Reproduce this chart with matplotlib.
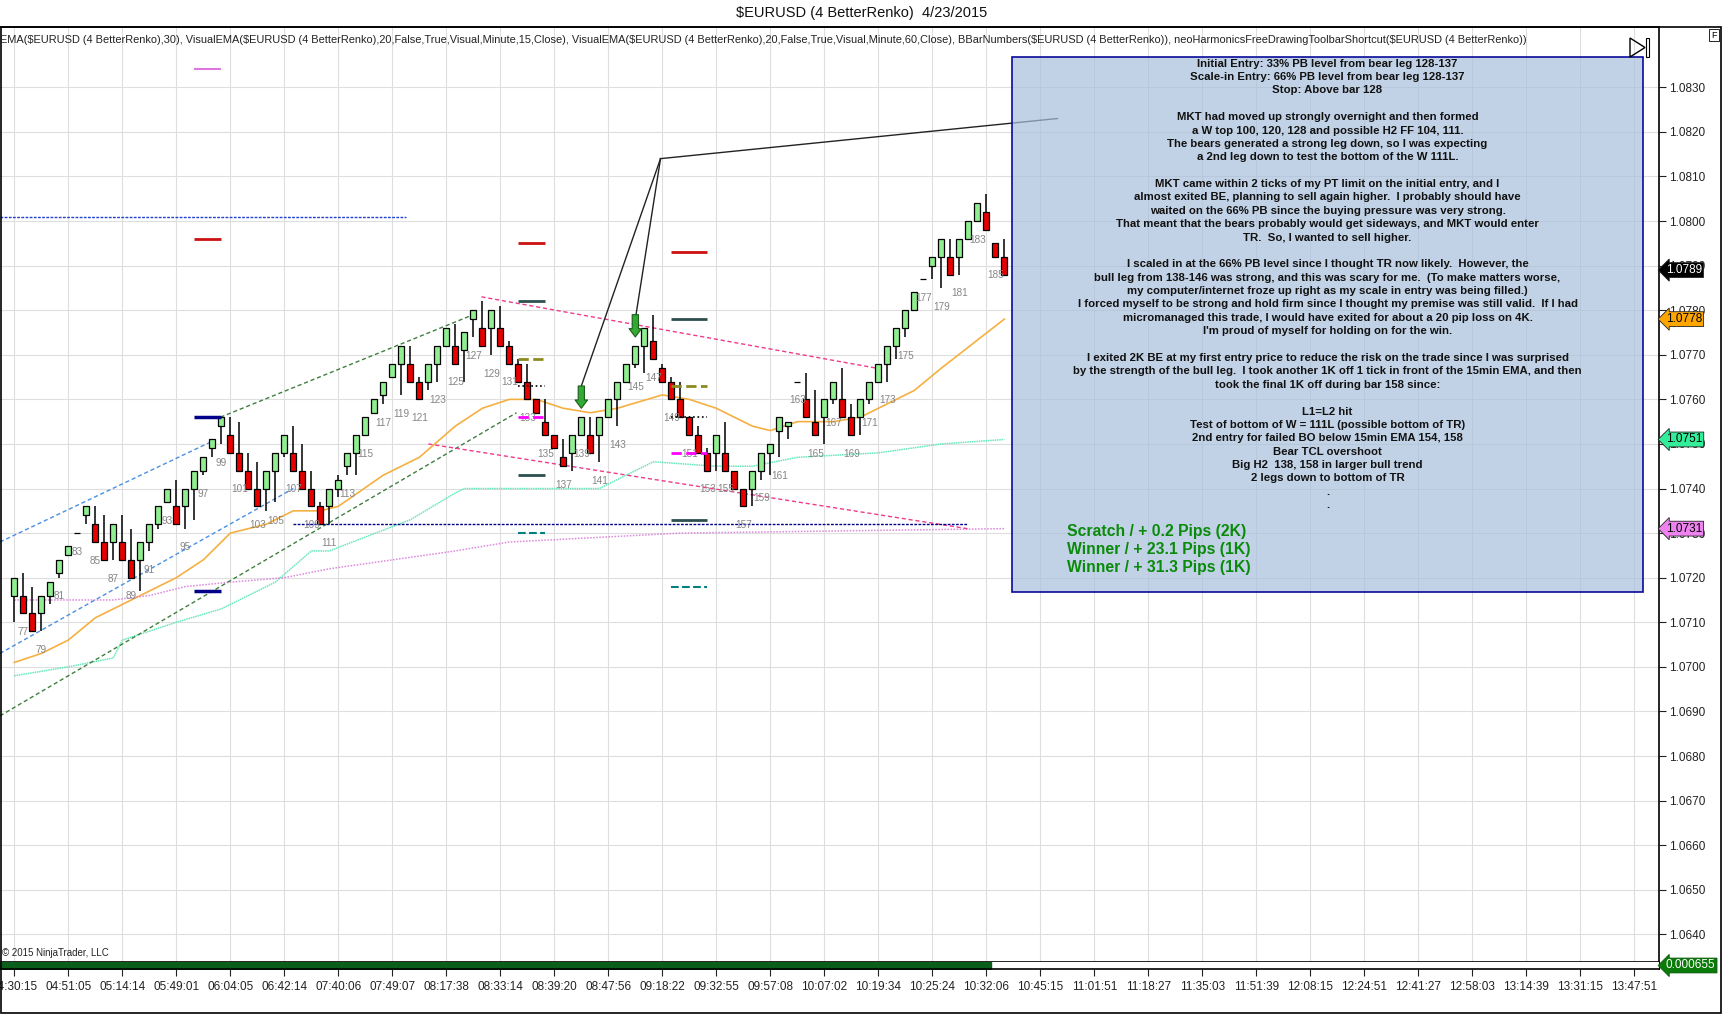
import numpy as np
import matplotlib
matplotlib.use("Agg")
import matplotlib.pyplot as plt
from matplotlib.patches import Rectangle, Polygon

plt.rcParams['font.family'] = ['Liberation Sans', 'DejaVu Sans']

# ---- renko bars (4 pip BetterRenko), first bar number 76 ----
first_bar = 76
bar_open = [1.0716, 1.0716, 1.0712, 1.0712, 1.0716, 1.0721, 1.0725, 1.0730, 1.0734, 1.0732,
            1.0728, 1.0728, 1.0728, 1.0724, 1.0724, 1.0728, 1.0732, 1.0737, 1.0736, 1.0736,
            1.0740, 1.0744, 1.0749, 1.0754, 1.0752, 1.0748, 1.0744, 1.0740, 1.0740, 1.0744,
            1.0748, 1.0748, 1.0744, 1.0740, 1.0736, 1.0736, 1.0740, 1.0745, 1.0748, 1.0752,
            1.0757, 1.0761, 1.0765, 1.0768, 1.0768, 1.0764, 1.0764, 1.0768, 1.0772, 1.0772,
            1.0771, 1.0778, 1.0776, 1.0776, 1.0776, 1.0772, 1.0768, 1.0764, 1.0760, 1.0755,
            1.0752, 1.0747, 1.0748, 1.0752, 1.0752, 1.0752, 1.0756, 1.0760, 1.0764, 1.0768,
            1.0772, 1.0773, 1.0767, 1.0764, 1.0760, 1.0756, 1.0752, 1.0748, 1.0748, 1.0748,
            1.0744, 1.0740, 1.0740, 1.0744, 1.0748, 1.0753, 1.0754, 1.0764, 1.0760, 1.0755,
            1.0756, 1.0760, 1.0760, 1.0756, 1.0756, 1.0760, 1.0764, 1.0768, 1.0772, 1.0776,
            1.0780, 1.0787, 1.0790, 1.0792, 1.0792, 1.0792, 1.0796, 1.0800, 1.0802, 1.0795,
            1.0792]
bar_high = [1.0720, 1.0721, 1.0718, 1.0716, 1.0719, 1.0724, 1.0727, 1.0730, 1.0736, 1.0736,
            1.0734, 1.0732, 1.0734, 1.0731, 1.0728, 1.0732, 1.0736, 1.0740, 1.0742, 1.0740,
            1.0744, 1.0747, 1.0751, 1.0756, 1.0756, 1.0755, 1.0748, 1.0746, 1.0744, 1.0748,
            1.0752, 1.0754, 1.0750, 1.0744, 1.0737, 1.0740, 1.0743, 1.0748, 1.0752, 1.0756,
            1.0760, 1.0764, 1.0768, 1.0772, 1.0772, 1.0765, 1.0768, 1.0772, 1.0776, 1.0777,
            1.0775, 1.0780, 1.0782, 1.0780, 1.0781, 1.0773, 1.0769, 1.0768, 1.0760, 1.0760,
            1.0752, 1.0751, 1.0752, 1.0756, 1.0756, 1.0756, 1.0760, 1.0764, 1.0768, 1.0772,
            1.0776, 1.0779, 1.0768, 1.0765, 1.0764, 1.0756, 1.0754, 1.0749, 1.0752, 1.0755,
            1.0744, 1.0740, 1.0744, 1.0748, 1.0750, 1.0756, 1.0755, 1.0764, 1.0766, 1.0762,
            1.0760, 1.0764, 1.0767, 1.0759, 1.0760, 1.0764, 1.0768, 1.0772, 1.0776, 1.0780,
            1.0784, 1.0787, 1.0792, 1.0796, 1.0796, 1.0796, 1.0800, 1.0804, 1.0806, 1.0795,
            1.0796]
bar_low = [1.0710, 1.0712, 1.0708, 1.0708, 1.0714, 1.0720, 1.0725, 1.0730, 1.0732, 1.0728,
           1.0724, 1.0724, 1.0724, 1.0720, 1.0717, 1.0726, 1.0731, 1.0737, 1.0732, 1.0731,
           1.0733, 1.0743, 1.0747, 1.0750, 1.0748, 1.0744, 1.0740, 1.0736, 1.0735, 1.0737,
           1.0747, 1.0744, 1.0740, 1.0736, 1.0732, 1.0732, 1.0738, 1.0743, 1.0743, 1.0752,
           1.0757, 1.0759, 1.0765, 1.0761, 1.0764, 1.0760, 1.0762, 1.0764, 1.0772, 1.0768,
           1.0764, 1.0774, 1.0772, 1.0770, 1.0772, 1.0768, 1.0764, 1.0760, 1.0757, 1.0752,
           1.0749, 1.0745, 1.0744, 1.0752, 1.0748, 1.0746, 1.0756, 1.0754, 1.0764, 1.0767,
           1.0766, 1.0769, 1.0764, 1.0760, 1.0756, 1.0752, 1.0748, 1.0744, 1.0744, 1.0744,
           1.0740, 1.0736, 1.0736, 1.0742, 1.0743, 1.0747, 1.0751, 1.0764, 1.0756, 1.0752,
           1.0750, 1.0759, 1.0756, 1.0752, 1.0752, 1.0759, 1.0764, 1.0764, 1.0769, 1.0774,
           1.0780, 1.0787, 1.0787, 1.0785, 1.0788, 1.0788, 1.0796, 1.0800, 1.0798, 1.0792,
           1.0788]
bar_close = [1.0720, 1.0712, 1.0708, 1.0716, 1.0719, 1.0724, 1.0727, 1.0730, 1.0736, 1.0728,
             1.0724, 1.0732, 1.0724, 1.0720, 1.0728, 1.0732, 1.0736, 1.0740, 1.0732, 1.0740,
             1.0744, 1.0747, 1.0751, 1.0756, 1.0748, 1.0744, 1.0740, 1.0736, 1.0744, 1.0748,
             1.0752, 1.0744, 1.0740, 1.0736, 1.0732, 1.0740, 1.0742, 1.0748, 1.0752, 1.0756,
             1.0760, 1.0764, 1.0768, 1.0772, 1.0764, 1.0760, 1.0768, 1.0772, 1.0776, 1.0768,
             1.0775, 1.0780, 1.0772, 1.0780, 1.0772, 1.0768, 1.0764, 1.0760, 1.0757, 1.0752,
             1.0749, 1.0745, 1.0752, 1.0756, 1.0748, 1.0756, 1.0760, 1.0764, 1.0768, 1.0772,
             1.0776, 1.0769, 1.0764, 1.0760, 1.0756, 1.0752, 1.0748, 1.0744, 1.0752, 1.0744,
             1.0740, 1.0736, 1.0744, 1.0748, 1.0750, 1.0756, 1.0755, 1.0764, 1.0756, 1.0752,
             1.0760, 1.0764, 1.0756, 1.0752, 1.0760, 1.0764, 1.0768, 1.0772, 1.0776, 1.0780,
             1.0784, 1.0787, 1.0792, 1.0796, 1.0788, 1.0796, 1.0800, 1.0804, 1.0798, 1.0792,
             1.0788]

# time axis labels (every 6th bar slot, starting at bar 76)
time_labels = ['04:30:15', '04:51:05', '05:14:14', '05:49:01', '06:04:05', '06:42:14',
               '07:40:06', '07:49:07', '08:17:38', '08:33:14', '08:39:20', '08:47:56',
               '09:18:22', '09:32:55', '09:57:08', '10:07:02', '10:19:34', '10:25:24',
               '10:32:06', '10:45:15', '11:01:51', '11:18:27', '11:35:03', '11:51:39',
               '12:08:15', '12:24:51', '12:41:27', '12:58:03', '13:14:39', '13:31:15',
               '13:47:51']

# indicators (bar, value)
ema30_bar = [76, 79, 82, 85, 88, 90, 94, 97, 99, 100, 104, 107, 110, 112, 117, 121, 125, 128,
             131, 134, 137, 140, 143, 148, 151, 154, 158, 160, 163, 167, 170, 172, 176, 179, 186]
ema30_val = [1.0701, 1.0703, 1.0706, 1.0711, 1.0714, 1.0716, 1.0720, 1.0724, 1.0728, 1.0730,
             1.0732, 1.0735, 1.0735, 1.0736, 1.0743, 1.0747, 1.0754, 1.0758, 1.0760, 1.0760,
             1.0758, 1.0757, 1.0758, 1.0761, 1.0760, 1.0758, 1.0754, 1.0753, 1.0755, 1.0755,
             1.0756, 1.0758, 1.0762, 1.0767, 1.0778]
ema15_bar = [76, 82, 87, 88, 94, 99, 105, 109, 111, 120, 125, 126, 141, 143, 147, 154, 158,
             163, 172, 179, 186]
ema15_val = [1.0698, 1.0700, 1.0702, 1.0706, 1.0710, 1.0713, 1.0719, 1.0726, 1.0726, 1.0733,
             1.0739, 1.0740, 1.0740, 1.0742, 1.0746, 1.0745, 1.0745, 1.0747, 1.0748, 1.0750,
             1.0751]
ema60_bar = [76, 87, 91, 95, 100, 106, 111, 125, 131, 150, 186]
ema60_val = [1.0715, 1.0715, 1.0716, 1.0718, 1.0719, 1.0720, 1.0722, 1.0726, 1.0728, 1.0730,
             1.0731]

# drawn objects: (bar0, price0, bar1, price1, color, style)
trend_lines = [
    (74.4, 1.0728, 98.4, 1.0751, '#4a90e2', (0, (3, 2))),
    (74.4, 1.0703, 107.0, 1.0740, '#4a90e2', (0, (3, 2))),
    (98.9, 1.0756, 127.0, 1.0779, '#3f7f3f', (0, (3, 2))),
    (74.4, 1.0689, 131.8, 1.0757, '#3f7f3f', (0, (3, 2))),
    (127.9, 1.0783, 171.8, 1.0767, '#ee3c8c', (0, (3, 2))),
    (122.0, 1.0750, 181.9, 1.0731, '#ee3c8c', (0, (3, 2))),
    (107.0, 1.0732, 181.8, 1.0732, '#00008b', (0, (2, 1))),
    (74.4, 1.0801, 119.5, 1.0801, '#2040d0', (0, (2, 1))),
]

# target / stop markers: (bar0, bar1, price, color, style, width)
level_marks = [
    (96, 99, 1.0834, '#dd77dd', '-', 1.5), (96, 99, 1.0796, '#cc1111', '-', 2.0),
    (96, 99, 1.0756, '#00008b', '-', 2.5), (96, 99, 1.0717, '#00008b', '-', 2.5),
    (132, 135, 1.0795, '#cc1111', '-', 2.0), (132, 135, 1.0782, '#2f4f4f', '-', 2.0),
    (132, 135, 1.0769, '#8b8b20', '--', 2.0), (132, 135, 1.0763, '#000000', ':', 1.2),
    (132, 135, 1.0756, '#ff00ff', '--', 2.0), (132, 135, 1.0743, '#2f4f4f', '-', 2.0),
    (132, 135, 1.0730, '#008080', '--', 1.5),
    (149, 153, 1.0793, '#cc1111', '-', 2.0), (149, 153, 1.0778, '#2f4f4f', '-', 2.0),
    (149, 153, 1.0763, '#8b8b20', '--', 2.0), (149, 153, 1.0756, '#000000', ':', 1.2),
    (149, 153, 1.0748, '#ff00ff', '--', 2.0), (149, 153, 1.0733, '#2f4f4f', '-', 2.0),
    (149, 153, 1.0718, '#008080', '--', 1.5),
]

entry_arrows = [(139, 1.0763, 1.0758), (145, 1.0779, 1.0774)]
callout_apex = (147.8, 1.0814)
callout_ends = [(139, 1.0763), (145, 1.0778), (191.9, 1.0823)]

header = ("EMA($EURUSD (4 BetterRenko),30), VisualEMA($EURUSD (4 BetterRenko),20,False,True,Visual,"
          "Minute,15,Close), VisualEMA($EURUSD (4 BetterRenko),20,False,True,Visual,Minute,60,Close), "
          "BBarNumbers($EURUSD (4 BetterRenko)), neoHarmonicsFreeDrawingToolbarShortcut($EURUSD (4 BetterRenko))")

note_lines = [
    "Initial Entry: 33% PB level from bear leg 128-137",
    "Scale-in Entry: 66% PB level from bear leg 128-137",
    "Stop: Above bar 128",
    "",
    "MKT had moved up strongly overnight and then formed",
    "a W top 100, 120, 128 and possible H2 FF 104, 111.",
    "The bears generated a strong leg down, so I was expecting",
    "a 2nd leg down to test the bottom of the W 111L.",
    "",
    "MKT came within 2 ticks of my PT limit on the initial entry, and I",
    "almost exited BE, planning to sell again higher.  I probably should have",
    "waited on the 66% PB since the buying pressure was very strong.",
    "That meant that the bears probably would get sideways, and MKT would enter",
    "TR.  So, I wanted to sell higher.",
    "",
    "I scaled in at the 66% PB level since I thought TR now likely.  However, the",
    "bull leg from 138-146 was strong, and this was scary for me.  (To make matters worse,",
    "my computer/internet froze up right as my scale in entry was being filled.)",
    "I forced myself to be strong and hold firm since I thought my premise was still valid.  If I had",
    "micromanaged this trade, I would have exited for about a 20 pip loss on 4K.",
    "I'm proud of myself for holding on for the win.",
    "",
    "I exited 2K BE at my first entry price to reduce the risk on the trade since I was surprised",
    "by the strength of the bull leg.  I took another 1K off 1 tick in front of the 15min EMA, and then",
    "took the final 1K off during bar 158 since:",
    "",
    "L1=L2 hit",
    "Test of bottom of W = 111L (possible bottom of TR)",
    "2nd entry for failed BO below 15min EMA 154, 158",
    "Bear TCL overshoot",
    "Big H2  138, 158 in larger bull trend",
    "2 legs down to bottom of TR",
    ".",
    ".",
]
results = ["Scratch / + 0.2 Pips (2K)", "Winner / + 23.1 Pips (1K)", "Winner / + 31.3 Pips (1K)"]

price_tags = [(1.0789, '#000000', 'white'), (1.0778, '#ffa500', 'black'),
              (1.0751, '#33ee99', 'black'), (1.0731, '#ee82ee', 'black')]
osc_value = 0.000655

# ---------------------------------------------------------------
W, H = 1723, 1015
fig = plt.figure(figsize=(W / 100, H / 100), dpi=100)
fig.patch.set_facecolor('white')
ax = fig.add_axes([0, 1 - 962 / H, 1659 / W, 935 / H])
ax2 = fig.add_axes([0, 1 - 969 / H, 1659 / W, 7 / H], sharex=ax)

bars = np.arange(first_bar, first_bar + len(bar_open))
xmin, xmax = 74.41, 258.74
ax.set_xlim(xmin, xmax)
ax.set_ylim(1.063379, 1.084353)

tick_bars = first_bar + 6 * np.arange(len(time_labels))
ax.set_xticks(tick_bars)
ax.set_yticks(np.round(np.arange(1.0640, 1.08305, 0.001), 4))
ax.yaxis.tick_right()
ax.yaxis.set_major_formatter(plt.FormatStrFormatter('%.4f'))
ax.tick_params(axis='y', direction='out', length=5, pad=2, labelsize=8.5, colors='#222222')
ax.tick_params(axis='x', length=0, labelbottom=False)
ax.grid(True, color='#dedede', lw=0.8, zorder=0)
ax.set_axisbelow(True)
ax.spines['left'].set_visible(False)
for s in ['top', 'right', 'bottom']:
    ax.spines[s].set_color('black')
    ax.spines[s].set_linewidth(1.2)

# candles
for b, o, hi, lo, c in zip(bars, bar_open, bar_high, bar_low, bar_close):
    ax.vlines(b, lo, hi, color='black', lw=1.1, zorder=3)
    fc = '#90ee90' if c >= o else '#e60000'
    ax.add_patch(Rectangle((b - 0.35, min(o, c)), 0.70, abs(c - o), facecolor=fc,
                           edgecolor='black', lw=0.9, zorder=4))
    if b % 2 == 1:
        ax.annotate(str(b), (b, lo), xytext=(0, -13.5), textcoords='offset points',
                    ha='center', va='center', fontsize=7.2, color='#858585', zorder=5)

# indicators
ax.plot(ema30_bar, ema30_val, color='#f5b041', lw=1.2, zorder=2)
ax.plot(ema15_bar, ema15_val, color='#66e8b8', lw=1.1, ls=(0, (1, 0.5)), zorder=2)
ax.plot(ema60_bar, ema60_val, color='#dd88dd', lw=1.1, ls=(0, (1, 1)), zorder=2)

for b0, p0, b1, p1, col, ls in trend_lines:
    ax.plot([b0, b1], [p0, p1], color=col, lw=1.0, ls=ls, zorder=2)

for b0, b1, p, col, ls, lw in level_marks:
    ax.plot([b0, b1], [p, p], color=col, ls=ls, lw=lw, zorder=5, solid_capstyle='butt')

# callout lines and entry arrows
for b, p in callout_ends:
    ax.plot([callout_apex[0], b], [callout_apex[1], p], color='#222222', lw=1.0, zorder=6)
for b, ptop, ptip in entry_arrows:
    ax.annotate('', xy=(b, ptip), xytext=(b, ptop),
                arrowprops=dict(arrowstyle='simple,head_length=0.6,head_width=0.9,tail_width=0.45',
                                fc='#33aa33', ec='#1b5e1b', lw=0.8, shrinkA=0, shrinkB=0),
                zorder=7)

# note box
box_left, box_right, box_bottom, box_top = 186.86, 256.96, 1.07168, 1.08368
ax.add_patch(Rectangle((box_left, box_bottom), box_right - box_left, box_top - box_bottom,
                       facecolor='#a9c0dc', alpha=0.7, edgecolor='none', zorder=8))
ax.add_patch(Rectangle((box_left, box_bottom), box_right - box_left, box_top - box_bottom,
                       facecolor='none', edgecolor='#0a0a9a', lw=1.2, zorder=9))

note_family = ['Liberation Sans Narrow', 'Liberation Sans', 'DejaVu Sans']
cx = (box_left + box_right) / 2
note_texts = []
for i, line in enumerate(note_lines):
    t = ax.text(cx, 1.08353 - i * 0.0003001, line, ha='center', va='center', fontsize=8,
                fontweight='bold', family=note_family, color='#111111', zorder=10,
                parse_math=False)
    note_texts.append(t)
res_texts = []
for i, line in enumerate(results):
    t = ax.text(193.0, 1.07303 - i * 0.000405, line, ha='left', va='center', fontsize=10,
                fontweight='bold', family=note_family, color='#0a8a0a', zorder=10)
    res_texts.append(t)

# price tags on the axis (drawn over the tick labels, as in the platform)
for p, bg, fg in price_tags:
    ax.annotate(f'{p:.4f}', xy=(1, p), xycoords=('axes fraction', 'data'), xytext=(5, 0),
                textcoords='offset points', ha='left', va='center', fontsize=8.5, color=fg,
                bbox=dict(boxstyle='larrow,pad=0.12', fc=bg, ec='#222222', lw=0.6),
                annotation_clip=False, zorder=11)

# copyright
ax.text(0.001, 0.004, '\u00a9 2015 NinjaTrader, LLC', transform=ax.transAxes, fontsize=7,
        color='#222222', ha='left', va='bottom')

# lower oscillator strip
ax2.fill_between([xmin, 184.5], 0, osc_value, color='#0b5e1a', step='post')
ax2.set_ylim(0, osc_value * 1.05)
ax2.set_yticks([])
ax2.set_xticks(tick_bars)
ax2.set_xticklabels(time_labels)
ax2.tick_params(axis='x', direction='out', length=5, pad=4, labelsize=8.5, colors='#222222')
for s in ['left', 'top']:
    ax2.spines[s].set_visible(False)
ax2.spines['right'].set_color('black')
ax2.spines['bottom'].set_color('black')
ax2.spines['bottom'].set_linewidth(1.2)
ax2.annotate(f'{osc_value:.6f}', xy=(1, 0.5), xycoords='axes fraction', xytext=(5, 0),
             textcoords='offset points', ha='left', va='center', fontsize=8.5, color='white',
             bbox=dict(boxstyle='larrow,pad=0.12', fc='#0a7a0a', ec='#0a5a0a', lw=0.6),
             annotation_clip=False)

# title / header
fig.text(0.5, 1 - 13 / H, '$EURUSD (4 BetterRenko)  4/23/2015', ha='center', va='center',
         fontsize=10.5, color='#111111', parse_math=False)
hdr = fig.text(0.0, 1 - 40 / H, header, ha='left', va='center', fontsize=7.5,
               color='#222222', family=note_family, parse_math=False)

# outer frame and small widgets
fig.add_artist(Rectangle((0.0005, 1 - 1013 / H), 1721 / W - 0.0005, (1013 - 27) / H,
                         transform=fig.transFigure, fill=False, ec='black', lw=1.2))
fig.text(1714 / W, 1 - 35 / H, 'F', ha='center', va='center', fontsize=6.5,
         bbox=dict(boxstyle='square,pad=0.2', fc='white', ec='black', lw=0.6))
fig.add_artist(Polygon([(1630 / W, 1 - 38 / H), (1630 / W, 1 - 57 / H), (1645 / W, 1 - 47.5 / H)],
                       closed=True, transform=fig.transFigure, fill=False, ec='black', lw=1.0))
fig.add_artist(Rectangle((1646 / W, 1 - 57 / H), 3 / W, 19 / H, transform=fig.transFigure,
                         fill=False, ec='black', lw=0.8))

# fit text widths to the reference layout
fig.canvas.draw()
r = fig.canvas.get_renderer()
w = hdr.get_window_extent(r).width
hdr.set_fontsize(7.5 * 1530 / w)
wmax = max(t.get_window_extent(r).width for t in note_texts)
for t in note_texts:
    t.set_fontsize(8 * 512 / wmax)
w = res_texts[0].get_window_extent(r).width
for t in res_texts:
    t.set_fontsize(10 * 179 / w)

fig.savefig('out.png', dpi=100, facecolor='white')
